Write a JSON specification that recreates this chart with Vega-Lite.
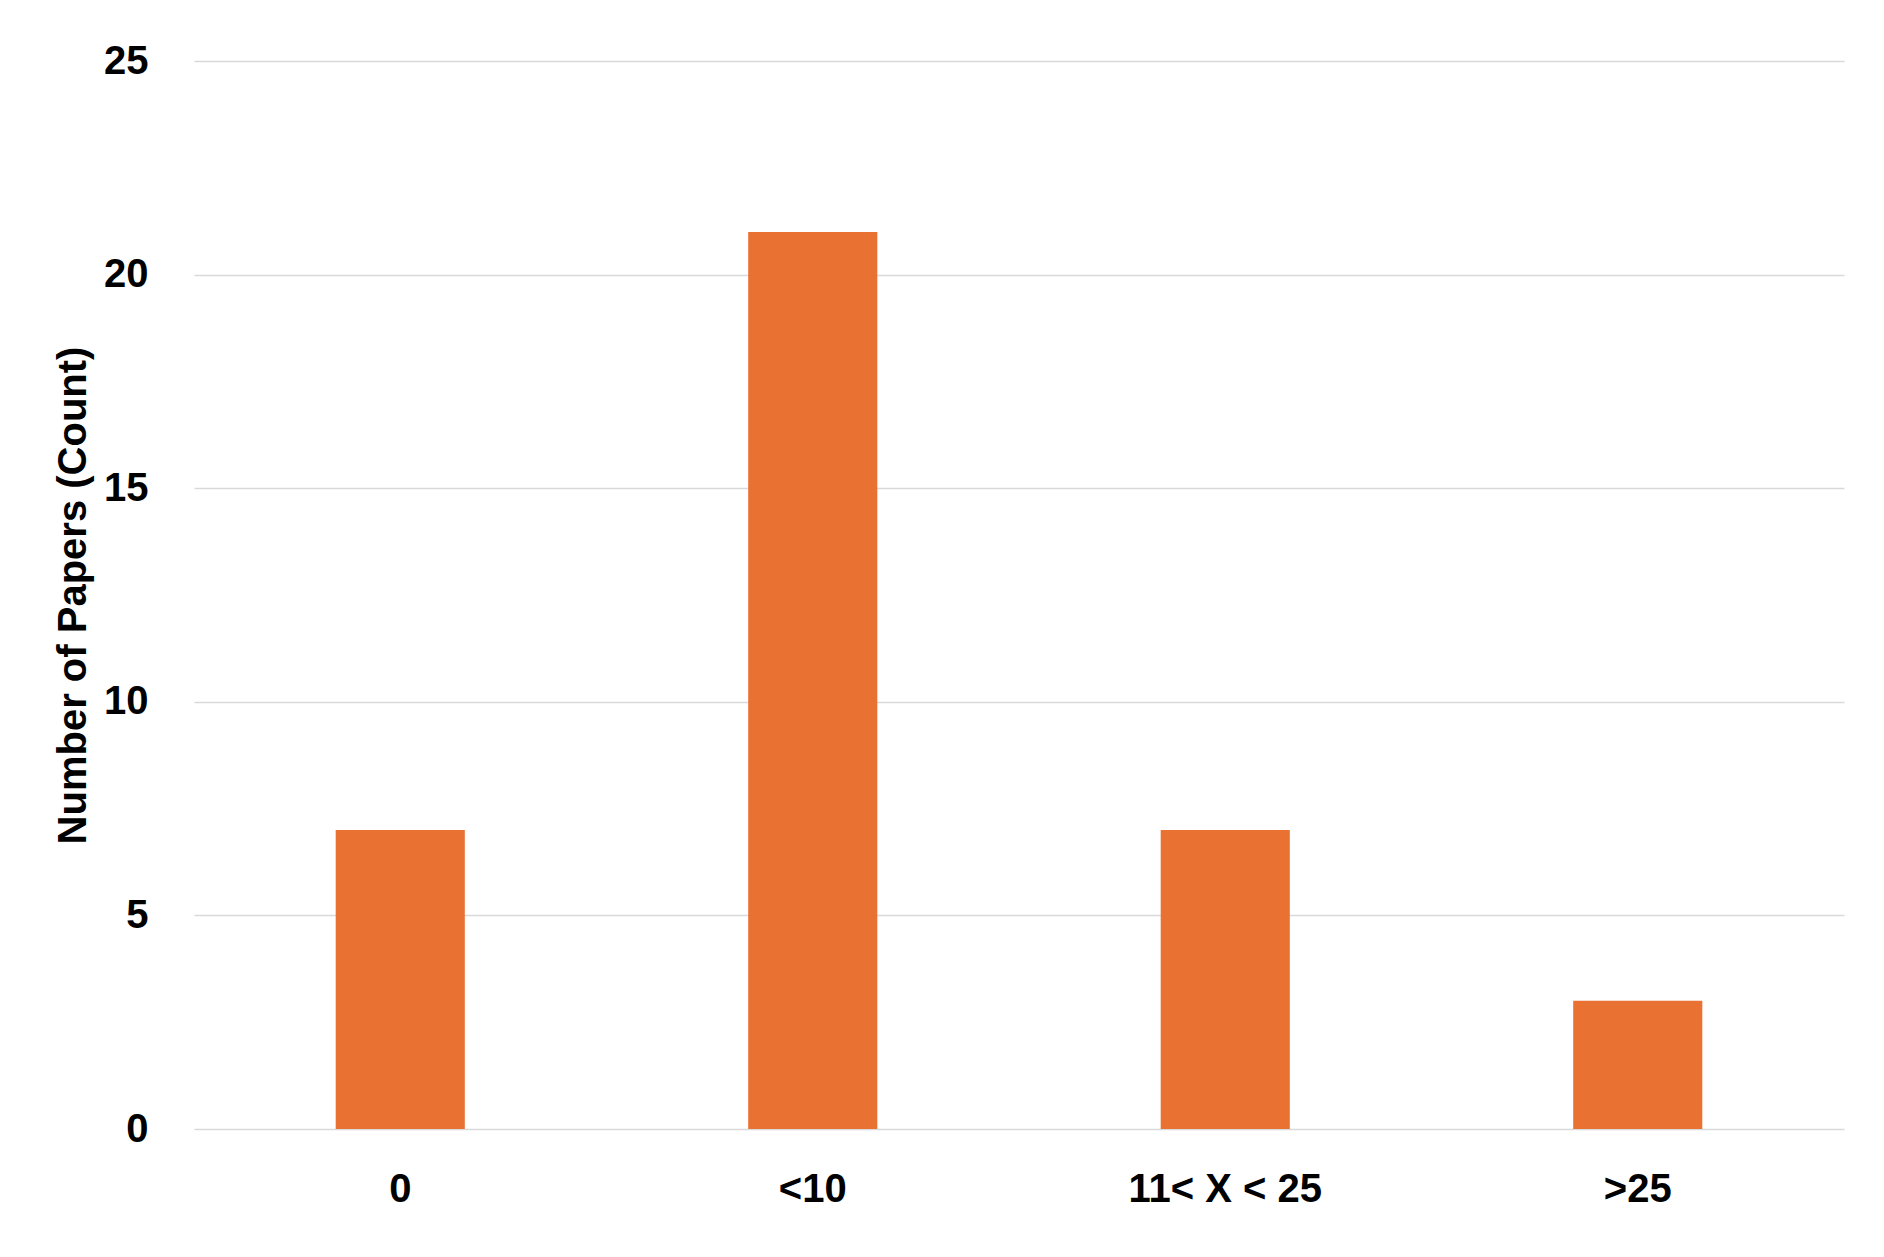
{
  "$schema": "https://vega.github.io/schema/vega-lite/v6.json",
  "autosize": "none",
  "padding": {"left": 194, "top": 61, "right": 40, "bottom": 128},
  "width": 1650,
  "height": 1068,
  "background": "white",
  "config": {
    "view": {"stroke": null},
    "font": "Liberation Sans",
    "axis": {
      "labelFont": "Liberation Sans",
      "titleFont": "Liberation Sans",
      "labelFontWeight": "bold",
      "titleFontWeight": "bold",
      "labelColor": "#000000",
      "titleColor": "#000000",
      "labelFontSize": 40,
      "titleFontSize": 40,
      "labelLimit": 0
    }
  },
  "data": {
    "values": [
      {"category": "0", "count": 7},
      {"category": "<10", "count": 21},
      {"category": "11< X < 25", "count": 7},
      {"category": ">25", "count": 3}
    ]
  },
  "mark": {"type": "bar", "color": "#E97132"},
  "encoding": {
    "x": {
      "field": "category",
      "type": "nominal",
      "sort": null,
      "scale": {"paddingInner": 0.687, "paddingOuter": 0.3435},
      "axis": {
        "title": null,
        "labelAngle": 0,
        "ticks": false,
        "tickSize": 0,
        "domain": false,
        "labelPadding": 40,
        "labelBaseline": "top",
        "labelLimit": 0
      }
    },
    "y": {
      "field": "count",
      "type": "quantitative",
      "scale": {"domain": [0, 25]},
      "axis": {
        "title": "Number of Papers (Count)",
        "values": [0, 5, 10, 15, 20, 25],
        "ticks": false,
        "tickSize": 0,
        "domain": false,
        "grid": true,
        "gridColor": "#D9D9D9",
        "gridWidth": 1.3,
        "labelPadding": 46,
        "titlePadding": 10
      }
    }
  }
}
